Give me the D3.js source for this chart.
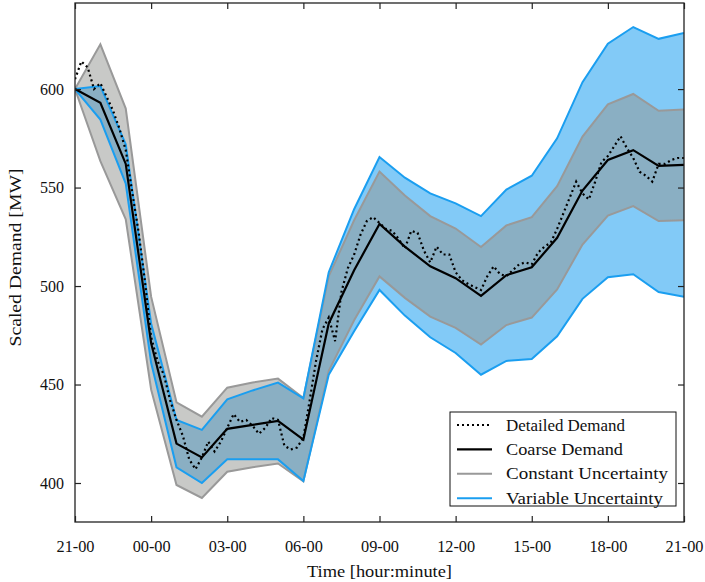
<!DOCTYPE html>
<html>
<head>
<meta charset="utf-8">
<script src="https://cdn.jsdelivr.net/npm/d3@7"></script>
<style>
  html, body { margin: 0; padding: 0; background: #fff; }
  svg { display: block; font-family: "Liberation Serif", "Times New Roman", serif; }
</style>
</head>
<body>
<svg id="chart" width="705" height="582"></svg>
<script>
// Axis ticks (hours after 21:00) and their labels
const tickHours = [0, 3, 6, 9, 12, 15, 18, 21, 24];
const tickLabels = ["21-00", "00-00", "03-00", "06-00", "09-00", "12-00", "15-00", "18-00", "21-00"];
const yTicks = [400, 450, 500, 550, 600];

// Hourly (coarse) demand, MW, 21:00 to 21:00
const coarseDemand = [600, 593, 562, 471, 420, 413, 427.5, 429.5, 431.5, 422, 481, 508, 531.5,
  520, 510, 504, 495, 505.5, 509.5, 524.5, 548.5, 564, 569, 561, 561.5];

// Quarter-hourly (detailed) demand, MW
const detailedDemand = [605, 614, 611, 600, 603, 596, 589, 580, 569, 548, 528, 503,
  474, 462, 455, 442, 432, 424, 412, 407, 413, 421, 416, 421,
  428, 435, 431, 432, 429, 425, 428, 433, 432, 419, 417, 418,
  423, 442, 462, 478, 484, 472, 497, 509, 516, 526, 533, 535,
  532, 529, 528, 524, 519, 528, 527, 518, 512, 520, 516, 516,
  507, 503, 501, 499.5, 498, 505, 510, 506, 505, 508, 511, 512,
  511, 517, 520, 522, 529, 537, 545, 553, 547, 544, 553, 563,
  566, 571, 576, 570, 565, 558, 556, 553, 562, 562, 564, 565, 565];

// Constant uncertainty band (hourly bounds)
const constLower = [600, 563.4, 533.9, 447.5, 399, 392.4, 405.7, 408, 409.9, 400.9, 457, 482.6, 504.9,
  494, 484.5, 478.8, 470.3, 480.2, 484, 498.3, 521.1, 535.8, 540.6, 533, 533.4];
const constUpper = [600, 622.7, 590.1, 494.6, 441, 433.7, 448.4, 451, 453, 443.1, 505, 533.4, 558.1,
  546, 535.5, 529.2, 519.8, 530.8, 535, 550.7, 575.9, 592.2, 597.5, 589, 589.6];

// Variable uncertainty band (hourly bounds)
const varLower = [600, 584.5, 552, 461, 408, 400, 412, 412, 412, 401, 455, 477, 498,
  485, 474, 466, 455, 462, 463, 474.5, 493.5, 504.5, 506, 497, 494.5];
const varUpper = [600, 601.5, 572, 481, 432, 427, 442.5, 447, 451, 443, 507, 539, 565.5,
  555, 547, 542, 535.5, 549, 556, 575, 603.5, 623, 631.5, 625.5, 628.5];

const legendItems = [
  { label: "Detailed Demand", color: "#000", dash: "2,3", width: 2.2, len: 119 },
  { label: "Coarse Demand", color: "#000", dash: null, width: 2.2, len: 117 },
  { label: "Constant Uncertainty", color: "#999", dash: null, width: 2, len: 162 },
  { label: "Variable Uncertainty", color: "#1a9ef0", dash: null, width: 2, len: 157 }
];

const W = 705, H = 582;
const margin = { left: 75, right: 21, top: 3, bottom: 60 };
const x0 = margin.left, x1 = W - margin.right, y0 = margin.top, y1 = H - margin.bottom;

const svg = d3.select("#chart");

const x = d3.scaleLinear().domain([0, 24]).range([x0, x1]);
const y = d3.scaleLinear().domain([380.2, 643.7]).range([y1, y0]);

const hourly = coarseDemand.map((_, i) => i);

svg.append("defs").append("clipPath").attr("id", "plotclip")
  .append("rect").attr("x", x0).attr("y", y0).attr("width", x1 - x0).attr("height", y1 - y0);

const plot = svg.append("g").attr("clip-path", "url(#plotclip)");

const bandArea = (lo, hi) => d3.area()
  .x(i => x(i))
  .y0(i => y(lo[i]))
  .y1(i => y(hi[i]));

const lineOf = (vals, step) => d3.line()
  .x((d, i) => x(i * step))
  .y(d => y(d));

// Variable uncertainty fill
plot.append("path").datum(hourly)
  .attr("d", bandArea(varLower, varUpper))
  .attr("fill", "#82caf7");

// Constant uncertainty fill (translucent grey)
plot.append("path").datum(hourly)
  .attr("d", bandArea(constLower, constUpper))
  .attr("fill", "#919390")
  .attr("fill-opacity", 0.5);

// Band outlines
[[constLower, "#999"], [constUpper, "#999"], [varLower, "#1a9ef0"], [varUpper, "#1a9ef0"]]
  .forEach(([vals, c]) => {
    plot.append("path").datum(vals)
      .attr("d", lineOf(vals, 1))
      .attr("fill", "none")
      .attr("stroke", c)
      .attr("stroke-width", 2);
  });

// Detailed demand (dotted)
plot.append("path").datum(detailedDemand)
  .attr("d", lineOf(detailedDemand, 0.25))
  .attr("fill", "none")
  .attr("stroke", "#000")
  .attr("stroke-width", 2.2)
  .attr("stroke-dasharray", "2,3");

// Coarse demand
plot.append("path").datum(coarseDemand)
  .attr("d", lineOf(coarseDemand, 1))
  .attr("fill", "none")
  .attr("stroke", "#000")
  .attr("stroke-width", 2.2);

// Frame
svg.append("rect")
  .attr("x", x0).attr("y", y0).attr("width", x1 - x0).attr("height", y1 - y0)
  .attr("fill", "none").attr("stroke", "#222").attr("stroke-width", 1.3);

// Inward ticks on all four sides
const tickLen = 6;
const axisBottom = d3.axisBottom(x).tickValues(tickHours).tickSize(-tickLen)
  .tickFormat((d, i) => tickLabels[i]).tickPadding(18);
const axisTop = d3.axisTop(x).tickValues(tickHours).tickSize(-tickLen).tickFormat("");
const axisLeft = d3.axisLeft(y).tickValues(yTicks).tickSize(-tickLen).tickPadding(11);
const axisRight = d3.axisRight(y).tickValues(yTicks).tickSize(-tickLen).tickFormat("");

function styleAxis(g) {
  g.select(".domain").remove();
  g.selectAll(".tick line").attr("stroke", "#222").attr("stroke-width", 1.2);
  g.selectAll(".tick text").attr("fill", "#111").attr("font-size", 16.5)
    .attr("font-family", "Liberation Serif, serif")
    .attr("textLength", function () { return this.textContent.length === 5 ? 38 : 24; })
    .attr("lengthAdjust", "spacingAndGlyphs");
}

svg.append("g").attr("transform", `translate(0,${y1})`).call(axisBottom).call(styleAxis);
svg.append("g").attr("transform", `translate(0,${y0})`).call(axisTop).call(styleAxis);
svg.append("g").attr("transform", `translate(${x0},0)`).call(axisLeft).call(styleAxis);
svg.append("g").attr("transform", `translate(${x1},0)`).call(axisRight).call(styleAxis);

// Axis titles
svg.append("text")
  .attr("x", (x0 + x1) / 2).attr("y", 577)
  .attr("text-anchor", "middle").attr("font-size", 17.5).attr("fill", "#111")
  .attr("textLength", 145).attr("lengthAdjust", "spacingAndGlyphs")
  .text("Time [hour:minute]");

svg.append("text")
  .attr("transform", `translate(21,${(y0 + y1) / 2 - 5}) rotate(-90)`)
  .attr("text-anchor", "middle").attr("font-size", 17.5).attr("fill", "#111")
  .attr("textLength", 178).attr("lengthAdjust", "spacingAndGlyphs")
  .text("Scaled Demand [MW]");

// Legend
const lg = svg.append("g");
const lgX = 450, lgY = 412, lgW = 226, lgH = 94, rowH = 24.4;
lg.append("rect").attr("x", lgX).attr("y", lgY).attr("width", lgW).attr("height", lgH)
  .attr("fill", "#fff").attr("stroke", "#111").attr("stroke-width", 1);
legendItems.forEach((it, i) => {
  const ry = lgY + 13 + i * rowH;
  lg.append("line")
    .attr("x1", lgX + 7).attr("x2", lgX + 42).attr("y1", ry).attr("y2", ry)
    .attr("stroke", it.color).attr("stroke-width", it.width)
    .attr("stroke-dasharray", it.dash);
  lg.append("text")
    .attr("x", lgX + 56).attr("y", ry + 5.5)
    .attr("font-size", 17).attr("fill", "#111")
    .attr("textLength", it.len).attr("lengthAdjust", "spacingAndGlyphs")
    .text(it.label);
});
</script>
</body>
</html>
